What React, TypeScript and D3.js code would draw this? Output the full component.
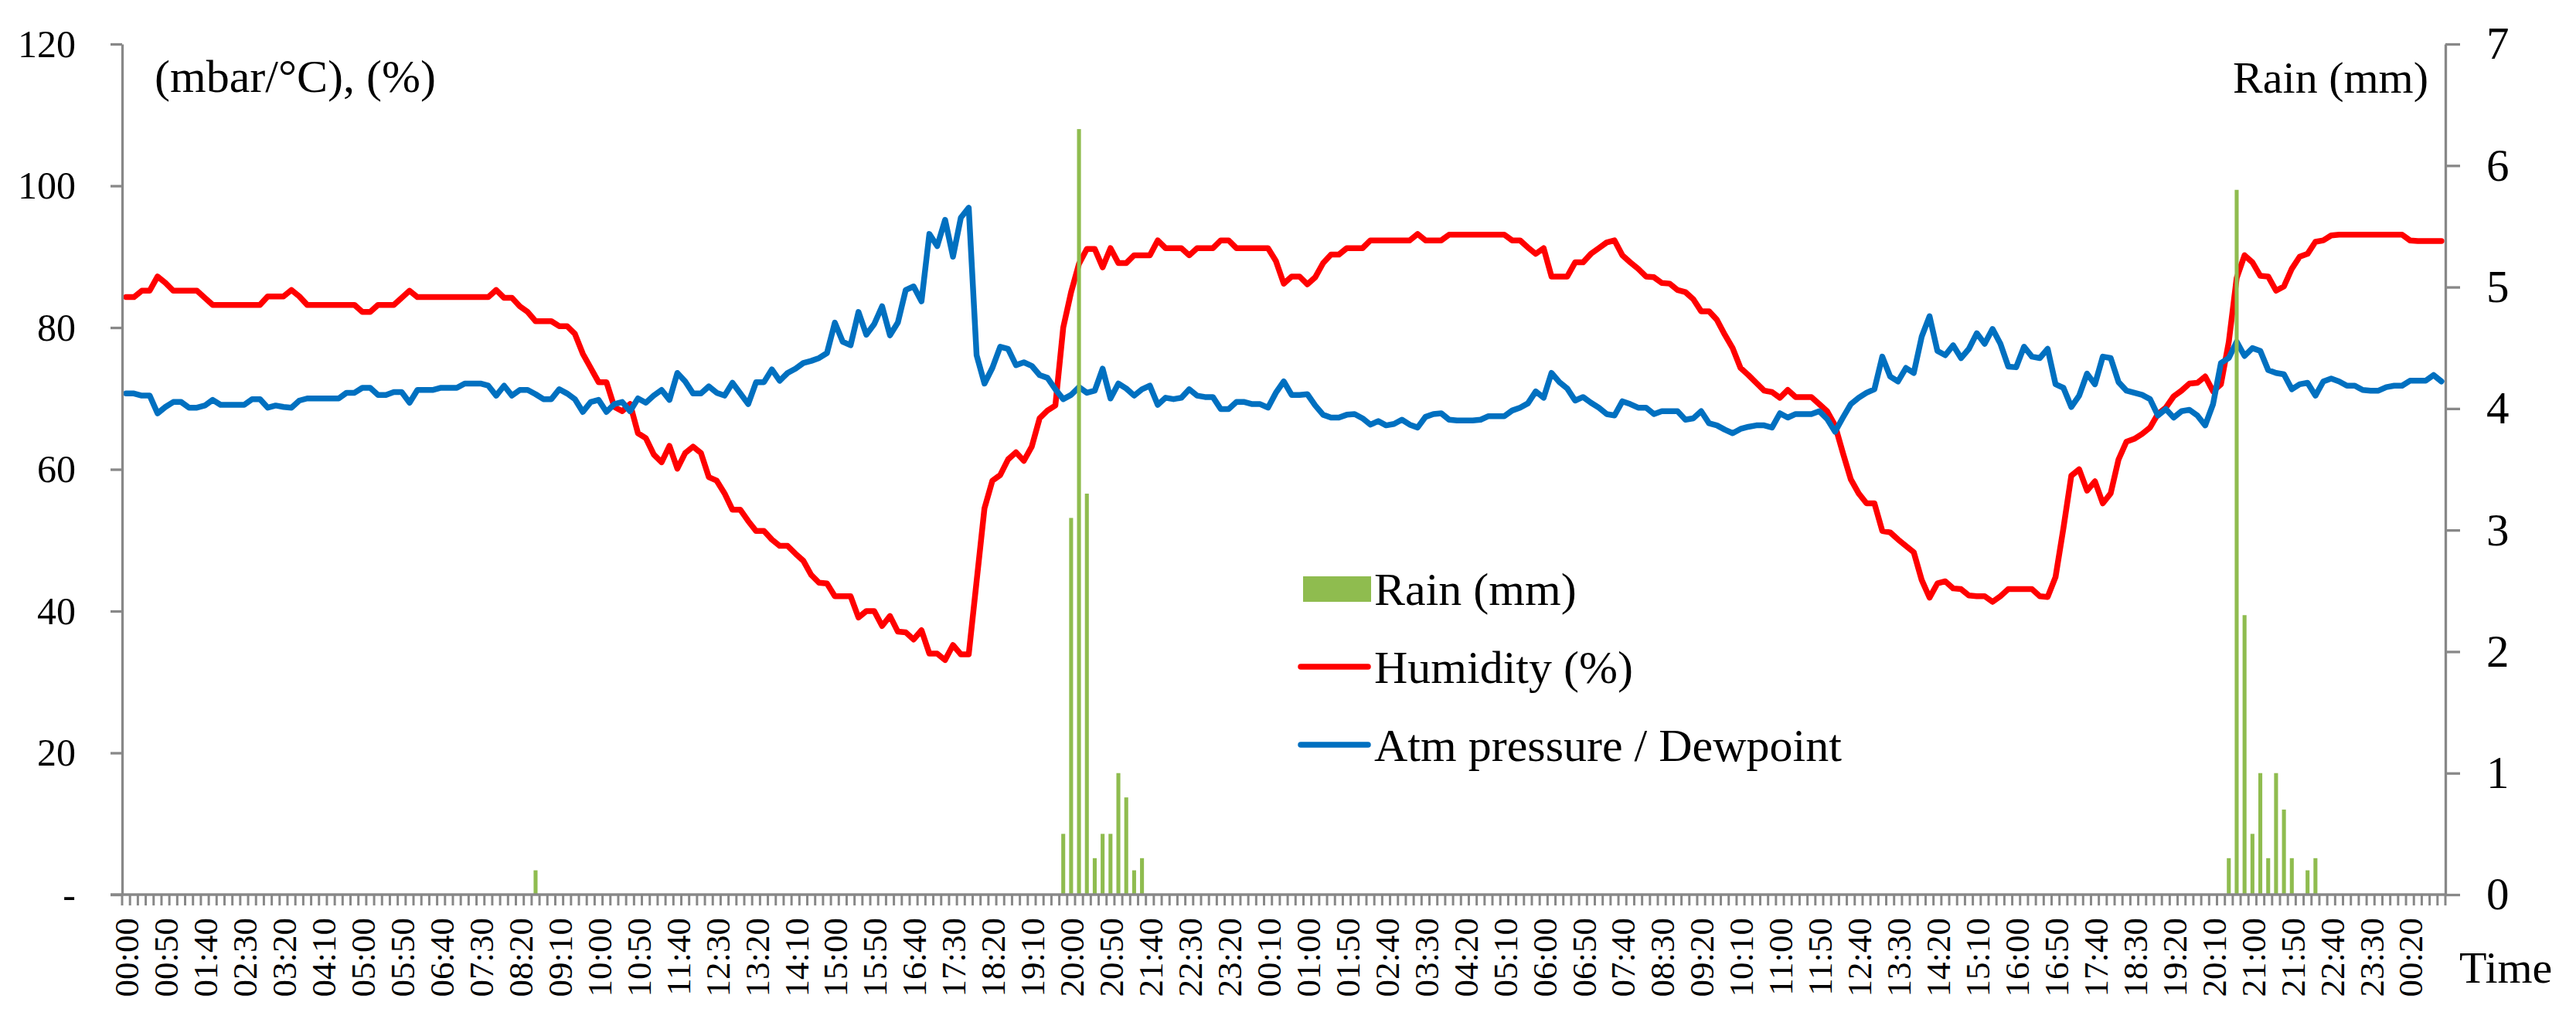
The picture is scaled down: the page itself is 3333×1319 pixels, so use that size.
import * as d3 from "d3";
import { useEffect, useRef } from "react";

// 10-minute readings, 00:00 on day 1 to 01:00 on day 3
const startMinutes = 0;
const stepMinutes = 10;

const humidity = [
  84.3, 84.3, 85.2, 85.2, 87.2, 86.3, 85.2, 85.2, 85.2, 85.2,
  84.2, 83.2, 83.2, 83.2, 83.2, 83.2, 83.2, 83.2, 84.4, 84.4,
  84.4, 85.3, 84.4, 83.2, 83.2, 83.2, 83.2, 83.2, 83.2, 83.2,
  82.2, 82.2, 83.2, 83.2, 83.2, 84.2, 85.2, 84.3, 84.3, 84.3,
  84.3, 84.3, 84.3, 84.3, 84.3, 84.3, 84.3, 85.3, 84.2, 84.2,
  83.0, 82.2, 80.9, 80.9, 80.9, 80.2, 80.2, 79.1, 76.3, 74.3,
  72.3, 72.3, 68.8, 68.2, 69.2, 65.1, 64.4, 62.1, 61.0, 63.3,
  60.1, 62.3, 63.2, 62.3, 58.9, 58.4, 56.6, 54.3, 54.3, 52.7,
  51.3, 51.3, 50.1, 49.2, 49.2, 48.1, 47.1, 45.1, 44.0, 43.9,
  42.1, 42.1, 42.1, 39.1, 40.0, 40.0, 37.9, 39.3, 37.1, 37.0,
  36.0, 37.3, 34.0, 34.0, 33.1, 35.2, 33.9, 33.9, 44.2, 54.5,
  58.4, 59.2, 61.4, 62.4, 61.2, 63.2, 67.2, 68.3, 69.0, 80.0,
  85.0, 89.0, 91.1, 91.1, 88.5, 91.2, 89.1, 89.1, 90.2, 90.2,
  90.2, 92.3, 91.2, 91.2, 91.2, 90.2, 91.2, 91.2, 91.2, 92.3,
  92.3, 91.2, 91.2, 91.2, 91.2, 91.2, 89.4, 86.2, 87.2, 87.2,
  86.1, 87.1, 89.1, 90.3, 90.3, 91.2, 91.2, 91.2, 92.3, 92.3,
  92.3, 92.3, 92.3, 92.3, 93.2, 92.3, 92.3, 92.3, 93.1, 93.1,
  93.1, 93.1, 93.1, 93.1, 93.1, 93.1, 92.3, 92.3, 91.3, 90.4,
  91.2, 87.2, 87.2, 87.2, 89.2, 89.2, 90.4, 91.2, 92.0, 92.3,
  90.2, 89.2, 88.3, 87.2, 87.1, 86.3, 86.2, 85.3, 85.0, 84.0,
  82.3, 82.3, 81.1, 79.0, 77.1, 74.3, 73.3, 72.2, 71.1, 70.9,
  70.1, 71.2, 70.2, 70.2, 70.2, 69.2, 68.2, 66.2, 62.3, 58.6,
  56.6, 55.2, 55.2, 51.3, 51.1, 50.1, 49.2, 48.3, 44.4, 41.9,
  43.9, 44.2, 43.2, 43.1, 42.2, 42.1, 42.1, 41.3, 42.1, 43.1,
  43.1, 43.1, 43.1, 42.1, 42.0, 44.8, 51.7, 59.1, 60.0, 57.0,
  58.3, 55.2, 56.6, 61.4, 63.9, 64.3, 65.0, 65.9, 67.8, 68.7,
  70.3, 71.1, 72.1, 72.2, 73.1, 71.0, 72.0, 78.0, 87.0, 90.2,
  89.2, 87.3, 87.2, 85.2, 85.8, 88.3, 90.0, 90.4, 92.1, 92.3,
  93.0, 93.1, 93.1, 93.1, 93.1, 93.1, 93.1, 93.1, 93.1, 93.1,
  92.3, 92.2, 92.2, 92.2, 92.2,
];

const pressureDew = [
  70.7, 70.7, 70.4, 70.4, 67.9, 68.8, 69.5, 69.5, 68.7, 68.7,
  69.0, 69.8, 69.1, 69.1, 69.1, 69.1, 69.9, 69.9, 68.7, 69.0,
  68.8, 68.7, 69.7, 70.0, 70.0, 70.0, 70.0, 70.0, 70.8, 70.8,
  71.5, 71.5, 70.5, 70.5, 70.9, 70.9, 69.4, 71.2, 71.2, 71.2,
  71.5, 71.5, 71.5, 72.1, 72.1, 72.1, 71.8, 70.4, 71.8, 70.4,
  71.2, 71.2, 70.6, 69.9, 69.9, 71.3, 70.7, 69.9, 68.1, 69.5,
  69.8, 68.1, 69.2, 69.5, 68.2, 70.0, 69.4, 70.4, 71.2, 69.8,
  73.6, 72.4, 70.7, 70.7, 71.7, 70.8, 70.4, 72.2, 70.7, 69.2,
  72.3, 72.3, 74.1, 72.5, 73.6, 74.2, 75.0, 75.3, 75.7, 76.4,
  80.7, 78.0, 77.5, 82.2, 79.0, 80.5, 83.0, 78.9, 80.7, 85.3,
  85.8, 83.7, 93.2, 91.5, 95.2, 90.0, 95.5, 96.9, 76.1, 72.1,
  74.3, 77.3, 77.0, 74.7, 75.1, 74.6, 73.3, 72.9, 71.3, 69.9,
  70.5, 71.6, 70.8, 71.1, 74.2, 70.0, 72.1, 71.4, 70.4, 71.3,
  71.8, 69.1, 70.1, 69.9, 70.1, 71.3, 70.4, 70.2, 70.2, 68.5,
  68.5, 69.5, 69.5, 69.2, 69.2, 68.7, 70.8, 72.4, 70.5, 70.5,
  70.6, 69.0, 67.7, 67.3, 67.3, 67.7, 67.8, 67.2, 66.3, 66.8,
  66.2, 66.4, 67.0, 66.3, 65.9, 67.4, 67.8, 67.9, 67.0, 66.9,
  66.9, 66.9, 67.0, 67.5, 67.5, 67.5, 68.3, 68.7, 69.3, 71.0,
  70.1, 73.6, 72.3, 71.4, 69.7, 70.2, 69.4, 68.7, 67.8, 67.6,
  69.6, 69.2, 68.7, 68.7, 67.8, 68.2, 68.2, 68.2, 67.0, 67.2,
  68.2, 66.5, 66.2, 65.6, 65.1, 65.7, 66.0, 66.2, 66.2, 65.9,
  67.9, 67.3, 67.8, 67.8, 67.8, 68.2, 67.1, 65.3, 67.3, 69.2,
  70.1, 70.8, 71.3, 75.9, 73.1, 72.4, 74.3, 73.6, 78.7, 81.6,
  76.7, 76.1, 77.5, 75.7, 77.0, 79.2, 77.7, 79.8, 77.7, 74.5,
  74.4, 77.3, 75.9, 75.7, 77.0, 72.0, 71.5, 68.8, 70.4, 73.5,
  72.0, 75.9, 75.7, 72.3, 71.1, 70.8, 70.5, 69.9, 67.6, 68.5,
  67.3, 68.2, 68.4, 67.6, 66.2, 69.2, 75.0, 75.7, 78.0, 76.0,
  77.1, 76.7, 74.0, 73.6, 73.4, 71.3, 72.0, 72.2, 70.4, 72.4,
  72.8, 72.4, 71.8, 71.8, 71.2, 71.1, 71.1, 71.6, 71.8, 71.8,
  72.5, 72.5, 72.5, 73.3, 72.4,
];

// rain readings (mm): [day, time, amount]; every other reading is 0
const rainDays = [1, 1, 1, 1, 1, 1, 1, 1, 1, 1, 1, 1, 2, 2, 2, 2, 2, 2, 2, 2, 2, 2, 2];
const rainTimes = [
  "08:40", "19:50", "20:00", "20:10", "20:20", "20:30", "20:40", "20:50",
  "21:00", "21:10", "21:20", "21:30",
  "20:30", "20:40", "20:50", "21:00", "21:10", "21:20", "21:30", "21:40",
  "21:50", "22:10", "22:20",
];
const rainMm = [
  0.2, 0.5, 3.1, 6.3, 3.3, 0.3, 0.5, 0.5, 1.0, 0.8, 0.2, 0.3,
  0.3, 5.8, 2.3, 0.5, 1.0, 0.3, 1.0, 0.7, 0.3, 0.2, 0.3,
];

const leftTicks = [0, 20, 40, 60, 80, 100, 120];
const rightTicks = [0, 1, 2, 3, 4, 5, 6, 7];
const labelEvery = 5;

const legendItems = [
  { name: "Rain (mm)", kind: "bar", color: "#8FBC4F" },
  { name: "Humidity (%)", kind: "line", color: "#FF0000" },
  { name: "Atm pressure / Dewpoint", kind: "line", color: "#0070C0" },
];

const fmtTime = (m: number) => {
  const t = ((m % 1440) + 1440) % 1440;
  return `${String(Math.floor(t / 60)).padStart(2, "0")}:${String(t % 60).padStart(2, "0")}`;
};

const width = 3333;
const height = 1319;
const font = "'Liberation Serif', 'Times New Roman', serif";
const axisColor = "#888888";

const App = () => {
  const ref = useRef<SVGSVGElement>(null);

  useEffect(() => {
    const plot = { left: 158, right: 3164, top: 57, bottom: 1158 };
    const svg = d3.select(ref.current);
    svg.selectAll("*").remove();

    const idx = d3.range(humidity.length);
    const categories = idx.map((i) => fmtTime(startMinutes + i * stepMinutes));

    const x = d3.scaleBand<number>().domain(idx).range([plot.left, plot.right]);
    const cx = (i: number) => x(i)! + x.bandwidth() / 2;
    const yL = d3.scaleLinear().domain([0, 120]).range([plot.bottom, plot.top]);
    const yR = d3.scaleLinear().domain([0, 7]).range([plot.bottom, plot.top]);

    // lines
    const line = d3
      .line<number>()
      .x((_, i) => cx(i))
      .y((d) => yL(d));

    [
      { data: humidity, color: legendItems[1].color },
      { data: pressureDew, color: legendItems[2].color },
    ].forEach((s) => {
      svg
        .append("path")
        .datum(s.data)
        .attr("d", line)
        .attr("fill", "none")
        .attr("stroke", s.color)
        .attr("stroke-width", 7.5)
        .attr("stroke-linejoin", "round")
        .attr("stroke-linecap", "round");
    });

    // rain columns on the secondary axis
    const rain = rainMm.map((mm, k) => {
      const m = (rainDays[k] - 1) * 1440 + +rainTimes[k].slice(0, 2) * 60 + +rainTimes[k].slice(3);
      return { i: (m - startMinutes) / stepMinutes, mm };
    });
    const barW = x.bandwidth() * 0.5;
    svg
      .append("g")
      .selectAll("rect")
      .data(rain)
      .join("rect")
      .attr("x", (d) => cx(d.i) - barW / 2)
      .attr("width", barW)
      .attr("y", (d) => yR(d.mm))
      .attr("height", (d) => yR(0) - yR(d.mm))
      .attr("fill", legendItems[0].color);

    // left axis
    const gL = svg
      .append("g")
      .attr("transform", `translate(${plot.left},0)`)
      .call(
        d3
          .axisLeft(yL)
          .tickValues(leftTicks)
          .tickSize(15)
          .tickSizeOuter(0)
          .tickPadding(45)
          .tickFormat((d) => (+d === 0 ? "-" : String(d)))
      );
    gL.selectAll(".tick text").attr("font-size", 50);

    // right axis
    const gR = svg
      .append("g")
      .attr("transform", `translate(${plot.right},0)`)
      .call(
        d3
          .axisRight(yR)
          .tickValues(rightTicks)
          .tickSize(19)
          .tickSizeOuter(0)
          .tickPadding(34)
          .tickFormat((d) => String(d))
      );
    gR.selectAll(".tick text").attr("font-size", 59);

    [gL, gR].forEach((g) => {
      g.select(".domain").attr("stroke", axisColor).attr("stroke-width", 3.3);
      g.selectAll(".tick line").attr("stroke", axisColor).attr("stroke-width", 3.3);
      g.selectAll(".tick text").attr("fill", "#000").style("font-family", font);
    });

    // bottom axis: tick marks at category boundaries
    const gB = svg.append("g");
    gB.append("line")
      .attr("x1", plot.left - 15)
      .attr("x2", plot.right)
      .attr("y1", plot.bottom)
      .attr("y2", plot.bottom)
      .attr("stroke", axisColor)
      .attr("stroke-width", 3.3);
    const bounds = [...idx.map((i) => x(i)!), plot.right];
    gB.selectAll("line.tick")
      .data(bounds)
      .join("line")
      .attr("class", "tick")
      .attr("x1", (d) => d)
      .attr("x2", (d) => d)
      .attr("y1", plot.bottom)
      .attr("y2", plot.bottom + 14)
      .attr("stroke", axisColor)
      .attr("stroke-width", 3);
    gB.selectAll("text")
      .data(idx.filter((i) => i % labelEvery === 0))
      .join("text")
      .attr("transform", (i) => `translate(${cx(i) + 1},1188) rotate(-90)`)
      .attr("text-anchor", "end")
      .attr("dy", "0.34em")
      .style("font-family", font)
      .attr("font-size", 45)
      .text((i) => categories[i]);

    // axis titles
    const title = (t: string, tx: number, ty: number, anchor: string, size: number) =>
      svg
        .append("text")
        .attr("x", tx)
        .attr("y", ty)
        .attr("text-anchor", anchor)
        .style("font-family", font)
        .attr("font-size", size)
        .text(t);
    title("(mbar/°C), (%)", 200, 119, "start", 60);
    title("Rain (mm)", 3142, 120, "end", 58);
    title("Time", 3182, 1272, "start", 58);

    // legend
    const lg = svg.append("g").attr("transform", "translate(1681,762)");
    legendItems.forEach((it, k) => {
      const row = lg.append("g").attr("transform", `translate(0,${k * 101})`);
      if (it.kind === "bar") {
        row.append("rect").attr("x", 5).attr("y", -16).attr("width", 88).attr("height", 33).attr("fill", it.color);
      } else {
        row
          .append("line")
          .attr("x1", 2)
          .attr("x2", 89)
          .attr("stroke", it.color)
          .attr("stroke-width", 7.5)
          .attr("stroke-linecap", "round");
      }
      row
        .append("text")
        .attr("x", 97)
        .attr("y", 21)
        .style("font-family", font)
        .attr("font-size", 60)
        .text(it.name);
    });
  }, []);

  return (
    <svg
      ref={ref}
      width={width}
      height={height}
      viewBox={`0 0 ${width} ${height}`}
      style={{ position: "absolute", left: 0, top: 0, background: "#fff" }}
    ></svg>
  );
};

export default App;
